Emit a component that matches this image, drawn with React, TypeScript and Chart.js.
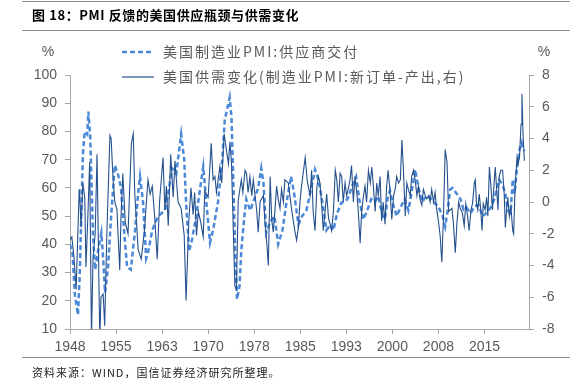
import React, { useEffect, useRef } from "react";
import { Chart, registerables } from "chart.js";

Chart.register(...registerables);

// X axis: decimal years, ticks every 90 months (7.5 years)
const xTickYears = [1948, 1955.5, 1963, 1970.5, 1978, 1985.5, 1993, 2000.5, 2008, 2015.5];
const xTickLabels = ["1948", "1955", "1963", "1970", "1978", "1985", "1993", "2000", "2008", "2015"];
const xMin = 1948;
const xMax = 2022.75;

const leftMin = 10;
const leftMax = 100;
const leftStep = 10;
const rightMin = -8;
const rightMax = 8;
const rightStep = 2;

const seriesNames = ["美国制造业PMI:供应商交付", "美国供需变化(制造业PMI:新订单-产出,右)"];

// 美国制造业PMI:供应商交付 (left axis)
const supplyYears = [
  1948.0, 1948.4, 1948.8, 1949.3, 1949.6, 1950.1, 1950.4, 1950.8, 1951.0, 1951.3,
  1951.75, 1952.1, 1952.6, 1953.1, 1953.4, 1953.7, 1954.2, 1954.7, 1955.3, 1955.8,
  1956.3, 1956.8, 1957.3, 1957.9, 1958.6, 1959.1, 1959.4, 1959.9, 1960.4, 1960.7,
  1961.4, 1962.35, 1963.45, 1964.0, 1964.6, 1965.3, 1966.1, 1966.6, 1966.9, 1967.4,
  1967.9, 1968.55, 1969.2, 1969.7, 1970.2, 1970.8, 1971.3, 1972.1, 1972.8, 1973.2,
  1973.8, 1974.0, 1974.3, 1974.6, 1974.9, 1975.2, 1975.6, 1975.9, 1976.4, 1976.7,
  1977.35, 1978.0, 1978.65, 1979.15, 1979.5, 1979.95, 1980.6, 1981.3, 1981.9, 1982.6,
  1983.2, 1984.0, 1984.5, 1985.2, 1985.8, 1986.5, 1987.1, 1987.5, 1987.9, 1988.45,
  1989.1, 1989.75, 1990.4, 1990.9, 1991.5, 1992.2, 1992.8, 1993.3, 1994.0, 1994.6,
  1995.1, 1995.75, 1996.4, 1997.05, 1997.6, 1998.2, 1998.9, 1999.3, 1999.7, 2000.1,
  2000.5, 2001.2, 2001.8, 2002.5, 2003.1, 2003.6, 2004.2, 2004.75, 2005.4, 2005.9,
  2006.4, 2007.2, 2008.0, 2008.7, 2009.1, 2009.5, 2009.9, 2010.3, 2010.95, 2011.6,
  2012.1, 2012.6, 2013.2, 2013.9, 2014.5, 2015.2, 2015.8, 2016.5, 2017.1, 2017.9,
  2018.45, 2018.9, 2019.3, 2019.75, 2020.1, 2020.4, 2020.75, 2021.2, 2021.55, 2021.7,
  2022.0,
];
const supplyValues = [
  40, 37, 22, 15, 30, 72, 80, 79, 87, 78,
  43, 31, 38, 44, 35, 23, 32, 50, 68, 65,
  60, 45, 32, 31, 45, 58, 64, 55, 35, 37,
  45, 50, 52, 58, 67, 65, 79, 70, 55, 37.5,
  42, 50, 60, 67.5, 55, 40.6, 45, 55, 70, 84,
  90, 92, 85, 62, 38, 20.5, 25, 38, 50, 56,
  52, 56, 60, 67, 62, 44, 48, 50, 40, 45,
  54, 64, 58, 47, 50, 52, 58, 62, 66.5, 63,
  55, 45, 47, 45, 51, 54.8, 55, 56.5, 61, 64,
  56, 48.8, 52, 56, 55, 57, 50, 49, 56, 59,
  55, 50, 53, 56, 52, 58, 66.5, 60, 55, 57,
  57, 55, 53.4, 50, 46.3, 52, 59.4, 60, 58, 56,
  52.3, 53, 51, 53.4, 54, 50, 51, 53, 56, 62.9,
  61, 58, 52, 51, 63, 58, 66, 73.5, 76, 74.6,
  73,
];

// 美国供需变化 (新订单-产出, right axis): [decimal year, value]
const gapSeries: [number, number][] = [
  [1948.0, -2.4], [1948.3, -2.2], [1948.65, -3.5], [1949.0, -5.5], [1949.2, -3],
  [1949.5, 0.8], [1949.6, 0.3], [1949.8, -1.6], [1950.1, 1.2], [1950.4, 0.3],
  [1950.6, -4.1], [1950.9, -1], [1951.2, 2.5], [1951.5, -8.6], [1951.75, -3.5],
  [1952.1, -2], [1952.4, 3], [1952.85, -8.6], [1953.05, -6], [1953.4, -5.8],
  [1953.65, -7.8], [1954.0, -2], [1954.5, 4.2], [1954.7, 4.0], [1955.0, 1.5],
  [1955.3, 0], [1955.65, -0.5], [1956.1, -4.3], [1956.3, -1], [1956.6, 1.8],
  [1957.0, -1.3], [1957.45, -2], [1958.0, 3.7], [1958.3, 4.3], [1958.55, 0.5],
  [1959.1, -3], [1959.6, -3.6], [1960.1, -1.9], [1960.7, 1.4], [1961.05, 0.5],
  [1961.4, 1.0], [1961.8, -1], [1962.2, -3.6], [1962.6, 0.1], [1963.15, 2.8],
  [1963.45, -0.5], [1963.7, 1], [1964.0, -1.5], [1964.4, 3], [1964.8, 0.3],
  [1965.1, 2.6], [1965.6, 0], [1966.1, -0.4], [1966.6, -2.1], [1966.9, -6.2],
  [1967.35, -1.2], [1967.7, 0.9], [1968.05, -0.8], [1968.3, 0.6], [1968.6, -2.1],
  [1968.9, -0.6], [1969.3, -1.3], [1969.7, -2.2], [1969.95, 0.7], [1970.5, 0.3],
  [1971.0, 3.7], [1971.3, 1.4], [1971.6, 1.6], [1971.85, 0.6], [1972.4, 2.2],
  [1972.7, 1.2], [1973.1, 4.3], [1973.8, 2.4], [1974.05, 3.8], [1974.3, 2.4],
  [1974.6, -1.8], [1974.85, -5.3], [1975.1, -5.5], [1975.4, 0.1], [1975.9, 1.4],
  [1976.15, 0.6], [1976.5, 2], [1976.75, 1.8], [1977.0, 0.6], [1977.3, 1.6],
  [1977.6, 0.4], [1977.85, 1.4], [1978.4, -0.5], [1978.65, -1.9], [1978.95, 0],
  [1979.2, 0.2], [1979.5, 0.4], [1979.75, -1.3], [1980.05, -2.6], [1980.3, -4],
  [1980.6, 1.6], [1980.85, -1.1], [1981.1, -1.9], [1981.4, -0.4], [1981.65, 1.0],
  [1981.9, 0.2], [1982.2, -0.4], [1982.45, 0.8], [1982.75, 0], [1983.0, 1.4],
  [1983.55, 1.2], [1984.1, -0.5], [1984.6, -1.8], [1984.9, -2.4], [1985.2, -1.6],
  [1985.45, 0], [1985.7, 1.0], [1986.0, 1.9], [1986.3, 2.8], [1986.65, 1.3],
  [1987.1, 0.4], [1987.35, 2], [1987.6, -0.6], [1987.9, -1.8], [1988.2, 0.9],
  [1988.45, 1.6], [1988.7, 1.2], [1989.0, -0.3], [1989.25, -1.8], [1989.8, 0.5],
  [1990.1, -1.0], [1990.35, -1.4], [1990.6, -1.8], [1990.9, -0.6], [1991.2, 2],
  [1991.45, 1.4], [1991.7, 0], [1992.0, 1.8], [1992.25, 1.6], [1992.5, 0],
  [1992.8, 1.2], [1993.05, 0.4], [1993.3, 0.8], [1993.6, 1.4], [1993.85, 2.3],
  [1994.15, 0], [1994.4, 1.6], [1994.7, 0.6], [1994.95, -0.6], [1995.25, -2.6],
  [1995.5, -0.6], [1995.8, 0.4], [1996.05, 1], [1996.3, 0], [1996.6, 2],
  [1996.9, 1.2], [1997.15, 2.2], [1997.4, 1], [1997.7, -0.6], [1997.95, 1.2],
  [1998.2, 0.4], [1998.5, 1.6], [1998.75, -1.2], [1999.0, 0], [1999.3, -1.4],
  [1999.55, 0.9], [1999.8, 2], [2000.1, 0.8], [2000.4, -1.1], [2000.7, 0.4],
  [2000.95, 0.8], [2001.2, 1.6], [2001.5, 1.2], [2001.8, 1.4], [2002.05, 3.9],
  [2002.3, 2], [2002.6, -0.9], [2002.85, 1.2], [2003.1, 0.8], [2003.4, 0.4],
  [2003.65, 1.6], [2003.95, 2], [2004.2, 1.4], [2004.5, 0.4], [2004.75, 1],
  [2005.0, 0.2], [2005.3, -0.2], [2005.55, 0.8], [2005.85, 0.4], [2006.1, 0.2],
  [2006.4, 0.4], [2006.65, 0], [2006.9, 0.8], [2007.2, 0], [2007.45, 0.6],
  [2007.7, -0.4], [2008.0, -1.2], [2008.3, -2.2], [2008.55, -3.8], [2008.8, -1.2],
  [2009.1, 3.3], [2009.4, 2.5], [2009.65, -0.6], [2010.2, -0.4], [2010.45, -1.4],
  [2010.75, -3.2], [2011.0, -1.4], [2011.3, 0], [2011.55, -0.4], [2011.9, -0.7],
  [2012.2, -1.5], [2012.45, -0.1], [2012.75, -0.9], [2013.0, -1.8], [2013.3, -0.5],
  [2013.55, -0.1], [2013.85, 1.2], [2014.0, 1.4], [2014.2, -0.1], [2014.4, -0.5],
  [2014.65, 0.5], [2014.9, -0.5], [2015.1, -1.8], [2015.3, -0.1], [2015.6, -0.5],
  [2015.85, 0.3], [2016.05, -0.9], [2016.3, 2.2], [2016.55, 1.0], [2016.8, -0.5],
  [2017.1, 1.4], [2017.25, 2.2], [2017.45, 1.0], [2017.7, -0.5], [2017.9, 1.6],
  [2018.15, 2.0], [2018.45, 2.0], [2018.7, 0.6], [2018.9, -1.6], [2019.1, -0.5],
  [2019.3, 0.3], [2019.55, -0.9], [2019.8, -0.3], [2020.1, -1.8], [2020.25, -2],
  [2020.45, 0.5], [2020.6, 1.6], [2020.8, 2.8], [2020.95, 2.4], [2021.2, 2.8],
  [2021.45, 4.9], [2021.6, 6.8], [2021.8, 4.0], [2022.0, 2.6],
];

const DASH_COLOR = "#4A88D8";
const SOLID_COLOR = "#24508E";
const AXIS_COLOR = "#A6A6A6";
const TEXT_COLOR = "#595959";
const TICK_FONT = { family: "'Liberation Sans', Arial, sans-serif", size: 14 };
const CJK = "'Noto Sans CJK SC', 'Noto Sans', sans-serif";

const tickLabelFor = (v: number) => {
  const i = xTickYears.findIndex((t) => Math.abs(t - v) < 1e-6);
  return i >= 0 ? xTickLabels[i] : "";
};

export default function App() {
  const ref = useRef<HTMLCanvasElement | null>(null);

  useEffect(() => {
    if (!ref.current) return;
    const legendPlugin = {
      id: "customLegend",
      afterDraw(chart: any) {
        const ctx = chart.ctx as CanvasRenderingContext2D;
        ctx.save();
        // unit labels
        ctx.fillStyle = TEXT_COLOR;
        ctx.font = `14px ${TICK_FONT.family}`;
        ctx.textAlign = "center";
        ctx.textBaseline = "middle";
        ctx.fillText("%", 48, 52);
        ctx.fillText("%", 544, 52);
        // legend rows
        const rows = [
          { y: 52, dash: [5, 3], width: 2.5, color: DASH_COLOR, text: seriesNames[0] },
          { y: 77, dash: [], width: 1.2, color: SOLID_COLOR, text: seriesNames[1] },
        ];
        rows.forEach((r) => {
          ctx.beginPath();
          ctx.setLineDash(r.dash);
          ctx.lineWidth = r.width;
          ctx.strokeStyle = r.color;
          ctx.moveTo(122, r.y);
          ctx.lineTo(154, r.y);
          ctx.stroke();
          ctx.setLineDash([]);
          ctx.font = `14px ${CJK}`;
          (ctx as any).letterSpacing = "2px";
          ctx.textAlign = "left";
          ctx.textBaseline = "middle";
          ctx.fillStyle = TEXT_COLOR;
          ctx.fillText(r.text, 163, r.y);
          (ctx as any).letterSpacing = "0px";
        });
        ctx.restore();
      },
    };

    const chart = new Chart(ref.current, {
      type: "line",
      data: {
        datasets: [
          {
            label: seriesNames[0],
            data: supplyYears.map((x, i) => ({ x, y: supplyValues[i] })),
            yAxisID: "y",
            borderColor: DASH_COLOR,
            borderWidth: 2.5,
            borderDash: [5, 3],
            pointRadius: 0,
            tension: 0,
            order: 2,
          },
          {
            label: seriesNames[1],
            data: gapSeries.map(([x, y]) => ({ x, y })),
            yAxisID: "y1",
            borderColor: SOLID_COLOR,
            borderWidth: 1.1,
            pointRadius: 0,
            tension: 0,
            order: 1,
          },
        ],
      },
      options: {
        responsive: false,
        animation: false,
        events: [],
        layout: { padding: { left: 0, right: 0, top: 75, bottom: 31 } },
        plugins: { legend: { display: false }, tooltip: { enabled: false } },
        scales: {
          x: {
            type: "linear",
            min: xMin,
            max: xMax,
            afterBuildTicks: (s: any) => {
              s.ticks = xTickYears.map((v) => ({ value: v }));
            },
            afterFit: (s: any) => {
              s.height = 25;
            },
            ticks: {
              autoSkip: false,
              maxRotation: 0,
              padding: 5,
              color: TEXT_COLOR,
              font: TICK_FONT,
              callback: (v: any) => tickLabelFor(Number(v)),
            },
            grid: { drawOnChartArea: false, color: AXIS_COLOR, tickLength: 5 },
            border: { color: AXIS_COLOR, width: 1 },
          },
          y: {
            position: "left",
            min: leftMin,
            max: leftMax,
            afterFit: (s: any) => {
              s.width = 70;
            },
            ticks: { stepSize: leftStep, padding: 8, color: TEXT_COLOR, font: TICK_FONT },
            grid: { drawOnChartArea: false, color: AXIS_COLOR, tickLength: 5 },
            border: { color: AXIS_COLOR, width: 1 },
          },
          y1: {
            position: "right",
            min: rightMin,
            max: rightMax,
            afterFit: (s: any) => {
              s.width = 46;
            },
            ticks: { stepSize: rightStep, padding: 8, color: TEXT_COLOR, font: TICK_FONT },
            grid: { drawOnChartArea: false, color: AXIS_COLOR, tickLength: 5 },
            border: { color: AXIS_COLOR, width: 1 },
          },
        },
      },
      plugins: [legendPlugin],
    } as any);
    return () => chart.destroy();
  }, []);

  const lineStyle = (top: number): React.CSSProperties => ({
    position: "absolute",
    left: 22,
    width: 548,
    top,
    height: 0,
    borderTop: "1.5px solid #8C8C8C",
  });

  return (
    <div style={{ position: "absolute", left: 0, top: 0, width: 575, height: 385, background: "#fff", overflow: "hidden" }}>
      <canvas ref={ref} width={575} height={385} style={{ position: "absolute", left: 0, top: 0, width: 575, height: 385 }} />
      <div style={lineStyle(1)} />
      <div
        style={{
          position: "absolute",
          left: 32,
          top: 7,
          lineHeight: "16px",
          fontSize: 13,
          letterSpacing: "0.6px",
          fontWeight: "bold",
          fontFamily: CJK,
          color: "#000",
          whiteSpace: "nowrap",
        }}
      >
        图 18：PMI 反馈的美国供应瓶颈与供需变化
      </div>
      <div style={lineStyle(30)} />
      <div style={lineStyle(357)} />
      <div
        style={{
          position: "absolute",
          left: 32,
          top: 365,
          lineHeight: "14px",
          fontSize: 11,
          letterSpacing: "1px",
          fontFamily: CJK,
          color: "#222",
          whiteSpace: "nowrap",
        }}
      >
        资料来源：WIND，国信证券经济研究所整理。
      </div>
    </div>
  );
}
